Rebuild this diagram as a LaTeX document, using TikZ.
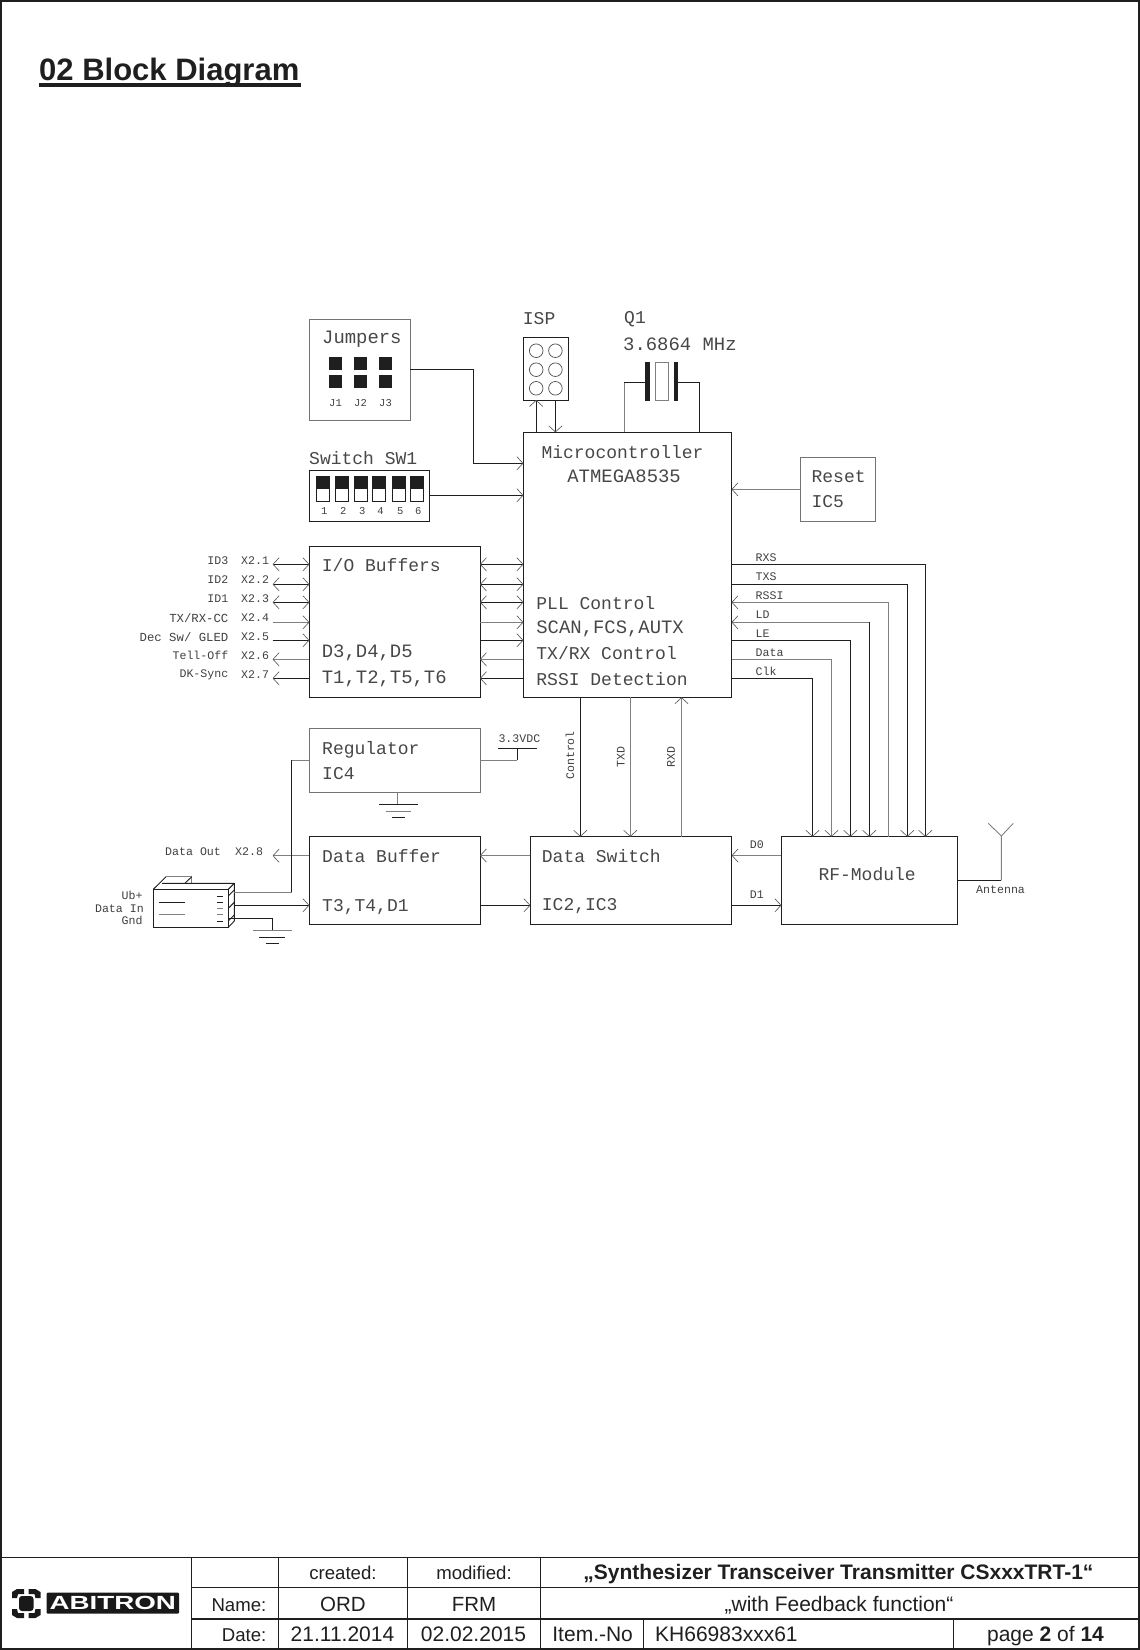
\documentclass[tikz,border=0pt]{standalone}
\usepackage{fontspec}
\setmainfont{Liberation Sans}
\setmonofont{Liberation Mono}
\usetikzlibrary{arrows.meta}

\tikzset{
  barb/.tip={Straight Barb[length=6pt,width=13pt,round,line width=0.65pt,color=black!65]},
  wire/.style={line width=0.9pt, draw=black!88},
  wirelt/.style={line width=0.9pt, draw=black!50},
  pin/.style={wire, -barb},
  pinlt/.style={wirelt, -barb},
  pinboth/.style={wire, barb-barb},
  blockbox/.style={draw=black!88, line width=0.9pt, inner sep=0pt, outer sep=0pt, anchor=north west},
  blocklt/.style={blockbox, draw=black!55},
  bigtxt/.style={inner sep=0pt, anchor=west, text=black!72, font=\fontsize{18}{20}\ttfamily},
  widetxt/.style={bigtxt, font=\fontsize{18.9}{20}\ttfamily},
  smalltxt/.style={inner sep=0pt, anchor=west, text=black!75, font=\fontsize{11.6}{13}\ttfamily},
  tinytxt/.style={smalltxt, font=\fontsize{10.5}{12}\ttfamily},
  tabtxt/.style={inner sep=0pt, anchor=base, text=black!88, font=\fontsize{21}{23}\selectfont},
  tablab/.style={tabtxt, font=\fontsize{18.6}{22}\selectfont},
  tabline/.style={line width=1pt, draw=black!88}
}

\begin{document}
\begin{tikzpicture}[x=1pt, y=-1pt]
\useasboundingbox (0,0) rectangle (1140,1650);

% page frame and heading
\draw[line width=2.4pt, black!88] (1,1) rectangle (1139,1648.7);
\node[inner sep=0pt, anchor=base west, text=black!88, font=\fontsize{31}{34}\selectfont\bfseries] (heading) at (39,80) {02 Block Diagram};
\draw[line width=3.3pt, black!88] (39,85) -- (301,85);

% blocks
\node[blocklt, minimum width=101pt, minimum height=100.7pt] (jumpers) at (309.3,319.3) {};
\node[blockbox, minimum width=44.9pt, minimum height=62.7pt] (isp) at (523.3,337.3) {};
\node[blockbox, minimum width=120pt, minimum height=50.7pt] (switch) at (309.3,470.3) {};
\node[blockbox, minimum width=208.3pt, minimum height=265pt] (micro) at (523.3,432.3) {};
\node[blocklt, minimum width=75.1pt, minimum height=64pt] (reset) at (800.3,457.3) {};
\node[blockbox, minimum width=170.7pt, minimum height=150.6pt] (iobuf) at (309.3,546.7) {};
\node[blocklt, minimum width=170.7pt, minimum height=64pt] (regul) at (309.3,728.3) {};
\node[blockbox, minimum width=170.7pt, minimum height=87.6pt] (databuf) at (309.3,836.7) {};
\node[blockbox, minimum width=201.4pt, minimum height=87.6pt] (dataswitch) at (530.3,836.7) {};
\node[blockbox, minimum width=176pt, minimum height=87.6pt] (rfmod) at (781.3,836.7) {};

% block texts
\node[widetxt] (jumperstxt) at (322,339.5) {Jumpers};
\node[bigtxt] (isptxt) at (522.7,319) {ISP};
\node[bigtxt] (qtxt) at (624,319.5) {Q1};
\node[widetxt] (freqtxt) at (623,344) {3.6864 MHz};
\node[bigtxt] (switchtxt) at (309,457.7) {Switch SW1};
\node[bigtxt] (microa) at (541.3,451.7) {Microcontroller};
\node[widetxt] (microb) at (567.2,476) {ATMEGA8535};
\node[bigtxt] (microc) at (536.2,602.7) {PLL Control};
\node[widetxt] (microd) at (536.2,628.5) {SCAN,FCS,AUTX};
\node[bigtxt] (microe) at (536.2,653) {TX/RX Control};
\node[bigtxt] (microf) at (536.2,679) {RSSI Detection};
\node[bigtxt] (reseta) at (811.4,476.7) {Reset};
\node[bigtxt] (resetb) at (811.4,501.7) {IC5};
\node[bigtxt] (iobufa) at (321.7,565) {I/O Buffers};
\node[widetxt] (iobufb) at (321.7,653.3) {D3,D4,D5};
\node[widetxt] (iobufc) at (321.7,679) {T1,T2,T5,T6};
\node[bigtxt] (regula) at (322,750) {Regulator};
\node[bigtxt] (regulb) at (322,773.3) {IC4};
\node[bigtxt] (databufa) at (322,855.7) {Data Buffer};
\node[bigtxt] (databufb) at (322,906.7) {T3,T4,D1};
\node[bigtxt] (dataswitcha) at (541.7,855.7) {Data Switch};
\node[bigtxt] (dataswitchb) at (541.7,905.7) {IC2,IC3};
\node[bigtxt] (rfmodtxt) at (818.3,874.3) {RF-Module};

% jumpers
\foreach \xx/\lab in {329/J1,354/J2,379/J3} {
  \fill[black!88] (\xx,357) rectangle ++(13,13);
  \fill[black!88] (\xx,375) rectangle ++(13,13);
  \node[tinytxt] (jlab\lab) at (\xx,403) {\lab};
}

% dip switch
\foreach \xx/\lab in {316/1,335/2,354/3,372.3/4,392/5,410/6} {
  \draw[line width=0.9pt, black!88] (\xx,476.3) rectangle ++(13.3,25.4);
  \fill[black!88] (\xx,476.3) rectangle ++(13.3,13);
  \node[tinytxt] (swlab\lab) at (\xx+4.8,510.7) {\lab};
}

% isp pins
\foreach \xx in {536.2,555.4}
  \foreach \yy in {350.7,369.7,388.3}
    \draw[line width=0.7pt, black!70] (\xx,\yy) circle (6.8);

% crystal
\fill[black!88] (645.3,362.3) rectangle (650.2,400.7);
\fill[black!88] (673.9,362.3) rectangle (678.4,400.7);
\draw[wirelt] (655.3,362.3) rectangle (668.8,400.2);
\draw[wirelt] (micro.north -| 624,0) -- (624,382.3);
\draw[wire] (624,382.3) -- (645.3,382.3);
\draw[wire] (micro.north -| 699.4,0) -- (699.4,382.3) -- (678.4,382.3);

% top connections
\draw[pin] (micro.north -| 536.2,0) -- (isp.south -| 536.2,0);
\draw[pin] (isp.south -| 555.4,0) -- (micro.north -| 555.4,0);
\draw[pin] (jumpers.east |- 0,369.3) -- (473.3,369.3) -- (473.3,463.3) -- (micro.west |- 0,463.3);
\draw[pin] (switch.east |- 0,495.3) -- (micro.west |- 0,495.3);
\draw[pinlt] (reset.west |- 0,489.3) -- (micro.east |- 0,489.3);

% io buffer lines
\foreach \yy in {564.3,584.3,602.3} {
  \draw[pinboth] (272.7,\yy) -- (iobuf.west |- 0,\yy);
  \draw[pinboth] (iobuf.east |- 0,\yy) -- (micro.west |- 0,\yy);
}
\draw[pinlt] (272.7,622.3) -- (iobuf.west |- 0,622.3);
\draw[pinlt] (iobuf.east |- 0,622.3) -- (micro.west |- 0,622.3);
\draw[pin] (272.7,640.3) -- (iobuf.west |- 0,640.3);
\draw[pin] (iobuf.east |- 0,640.3) -- (micro.west |- 0,640.3);
\draw[pinlt] (iobuf.west |- 0,659.3) -- (272.7,659.3);
\draw[pinlt] (micro.west |- 0,659.3) -- (iobuf.east |- 0,659.3);
\draw[pin] (iobuf.west |- 0,678.3) -- (272.7,678.3);
\draw[pin] (micro.west |- 0,678.3) -- (iobuf.east |- 0,678.3);

% io labels
\foreach \yy/\name/\pinname in {561/ID3/X2.1,579.3/ID2/X2.2,598.3/ID1/X2.3,655.7/Tell-Off/X2.6,675/DK-Sync/X2.7} {
  \node[smalltxt, anchor=east] (lab\pinname) at (228.5,\yy) {\name};
  \node[smalltxt] (pin\pinname) at (241,\yy) {\pinname};
}
\foreach \yy/\name/\pinname in {617.7/TX{/}RX-CC/X2.4,636.7/Dec Sw{/} GLED/X2.5} {
  \node[smalltxt, anchor=east, font=\fontsize{12.3}{13}\ttfamily] (lab\pinname) at (228.5,\yy) {\name};
  \node[smalltxt] (pin\pinname) at (241,\yy) {\pinname};
}

% rf lines
\draw[pin] (micro.east |- 0,564.3) -- (925.3,564.3) -- (rfmod.north -| 925.3,0);
\draw[pin] (micro.east |- 0,584.3) -- (907.3,584.3) -- (rfmod.north -| 907.3,0);
\draw[pinlt] (rfmod.north -| 888.3,0) -- (888.3,602.3) -- (micro.east |- 0,602.3);
\draw[pinlt] (869.3,622.3) -- (micro.east |- 0,622.3);
\draw[pin] (869.3,622.3) -- (rfmod.north -| 869.3,0);
\draw[pin] (micro.east |- 0,640.3) -- (850.3,640.3) -- (rfmod.north -| 850.3,0);
\draw[pinlt] (micro.east |- 0,659.3) -- (831.5,659.3) -- (rfmod.north -| 831.5,0);
\draw[pin] (micro.east |- 0,678.3) -- (812.5,678.3) -- (rfmod.north -| 812.5,0);
\foreach \yy/\name in {557.7/RXS,576.3/TXS,595.7/RSSI,614.3/LD,633.3/LE,652.3/Data,671.3/Clk}
  \node[smalltxt] (rf\name) at (755.5,\yy) {\name};

% micro to data switch
\draw[pin] (micro.south -| 580.3,0) -- (dataswitch.north -| 580.3,0);
\draw[pinlt] (micro.south -| 630.3,0) -- (dataswitch.north -| 630.3,0);
\draw[pinlt] (dataswitch.north -| 681.5,0) -- (micro.south -| 681.5,0);
\node[smalltxt, rotate=90] (ctrltxt) at (570,780) {Control};
\node[smalltxt, rotate=90] (txdtxt) at (620.7,767.3) {TXD};
\node[smalltxt, rotate=90] (rxdtxt) at (671,767.3) {RXD};

% data path
\draw[pinlt] (dataswitch.west |- 0,855.5) -- (databuf.east |- 0,855.5);
\draw[pin] (databuf.east |- 0,905.3) -- (dataswitch.west |- 0,905.3);
\draw[pinlt] (rfmod.west |- 0,855.5) -- (dataswitch.east |- 0,855.5);
\draw[pin] (dataswitch.east |- 0,905.3) -- (rfmod.west |- 0,905.3);
\node[smalltxt] (dotxt) at (749.7,844.7) {D0};
\node[smalltxt] (donetxt) at (749.7,895) {D1};
\draw[pinlt] (databuf.west |- 0,855.7) -- (272.7,855.7);
\node[smalltxt] (dataouttxt) at (165,851.7) {Data Out};
\node[smalltxt] (xeighttxt) at (235,851.7) {X2.8};

% antenna
\coordinate (antfoot) at (1001.3,836);
\draw[wire] (rfmod.east |- 0,880.3) -- (1001.3,880.3);
\draw[wirelt] (1001.3,880.3) -- (antfoot) -- (988.3,823.3) (antfoot) -- (1013.3,823.3);
\node[smalltxt] (anttxt) at (976,889.3) {Antenna};

% regulator
\draw[wirelt] (regul.east |- 0,760.3) -- (517.3,760.3);
\draw[wire] (517.3,760.3) -- (517.3,748.3);
\draw[wire] (498.3,748.3) -- (536.7,748.3);
\node[smalltxt] (vcctxt) at (498.3,738.3) {3.3VDC};
\draw[wirelt] (regul.south -| 397.3,0) -- (397.3,804.3);
\draw[wire] (379,804.3) -- (417.7,804.3);
\draw[wirelt] (385.7,811) -- (411,811);
\draw[wire] (392.3,817.3) -- (405,817.3);

% plug
\draw[wire] (153.3,889.3) rectangle (228.3,927.3);
\draw[wire] (153.3,889.3) -- (166,876.7);
\draw[wirelt] (166,876.7) -- (191.7,876.7) -- (191.7,883.3);
\draw[wire] (185,883.3) -- (191.7,876.7);
\draw[wire] (162,883.3) -- (234.3,883.3) -- (234.3,921) -- (228.3,927.3);
\draw[wire] (228.3,889.3) -- (234.3,883.3);
\foreach \yy in {896,908.3,921}
  \draw[wire] (228.3,\yy) -- (234.3,\yy-6);
\draw[wire] (159,902.3) -- (185,902.3);
\draw[wirelt] (159,914.3) -- (185,914.3);
\foreach \yy in {896,902.3,921}
  \draw[wire] (216.7,\yy) -- (222.7,\yy);
\foreach \yy in {908.3,914.3}
  \draw[wirelt] (216.7,\yy) -- (222.7,\yy);
\coordinate (plugout) at (234.3,892.3);
\draw[wirelt] (plugout) -- (291.7,892.3);
\draw[wire] (291.7,892.3) -- (291.7,760.3);
\draw[wirelt] (291.7,760.3) -- (regul.west |- 0,760.3);
\draw[pin] (234.3,905.3) -- (databuf.west |- 0,905.3);
\draw[wire] (228.3,918) -- (272.3,918) -- (272.3,930);
\draw[wirelt] (253.3,930) -- (291.7,930);
\draw[wire] (259,937) -- (285,937);
\draw[wire] (265.7,943.3) -- (279,943.3);
\node[smalltxt, anchor=east] (ubtxt) at (142.7,895.7) {Ub+};
\node[smalltxt, anchor=east] (dintxt) at (144,908.3) {Data In};
\node[smalltxt, anchor=east] (gndtxt) at (142.7,920.7) {Gnd};

% title block
\draw[tabline] (0,1557.3) -- (1139,1557.3);
\draw[tabline] (191,1587) -- (1139,1587);
\draw[line width=1.8pt, black!88] (191,1619) -- (1139,1619);
\foreach \xx in {191,278.6,407.6,540.4}
  \draw[tabline] (\xx,1557.3) -- (\xx,1648);
\foreach \xx in {643.3,953.3}
  \draw[tabline] (\xx,1619) -- (\xx,1648);

\node[tablab] (created) at (343,1579) {created:};
\node[tablab] (modified) at (474,1579) {modified:};
\node[tablab, anchor=base east] (namelab) at (266.5,1611) {Name:};
\node[tabtxt, font=\fontsize{20.5}{23}\selectfont] (ordtxt) at (343,1611) {ORD};
\node[tabtxt, font=\fontsize{20.5}{23}\selectfont] (frmtxt) at (474,1611) {FRM};
\node[tablab, anchor=base east] (datelab) at (266.5,1641) {Date:};
\node[tabtxt] (datea) at (342.5,1641) {21.11.2014};
\node[tabtxt] (dateb) at (473.5,1641) {02.02.2015};
\node[tabtxt, anchor=base west] (itemlab) at (552.2,1641) {Item.-No};
\node[tabtxt, anchor=base west] (itemno) at (655,1641) {KH66983xxx61};
\node[tabtxt] (pagetxt) at (1045.5,1641) {page \textbf{2} of \textbf{14}};
\node[tabtxt, font=\fontsize{21}{23}\selectfont\bfseries] (titlea) at (838.5,1579) {„Synthesizer Transceiver Transmitter CSxxxTRT-1“};
\node[tabtxt] (titleb) at (839,1611) {„with Feedback function“};

% logo
\fill[black!90, rounded corners=1pt] (46.7,1592.7) rectangle (179,1613.7);
\node[inner sep=0pt, text=white, font=\fontsize{19}{20}\selectfont\bfseries, xscale=1.46] (logotxt) at (112.8,1603.2) {ABITRON};
\fill[black!90, rounded corners=3pt] (19,1596) rectangle (33.5,1611);
\fill[black!90] (12,1598) -- (12,1592) -- (17,1589) -- (24,1589) -- (24,1594) -- (18,1594) -- (17,1598) -- cycle;
\fill[black!90] (40.5,1598) -- (40.5,1592) -- (35.5,1589) -- (28.5,1589) -- (28.5,1594) -- (34.5,1594) -- (35.5,1598) -- cycle;
\fill[black!90] (12,1609) -- (12,1615) -- (17,1618) -- (24,1618) -- (24,1613) -- (18,1613) -- (17,1609) -- cycle;
\fill[black!90] (40.5,1609) -- (40.5,1615) -- (35.5,1618) -- (28.5,1618) -- (28.5,1613) -- (34.5,1613) -- (35.5,1609) -- cycle;
\end{tikzpicture}
\end{document}
